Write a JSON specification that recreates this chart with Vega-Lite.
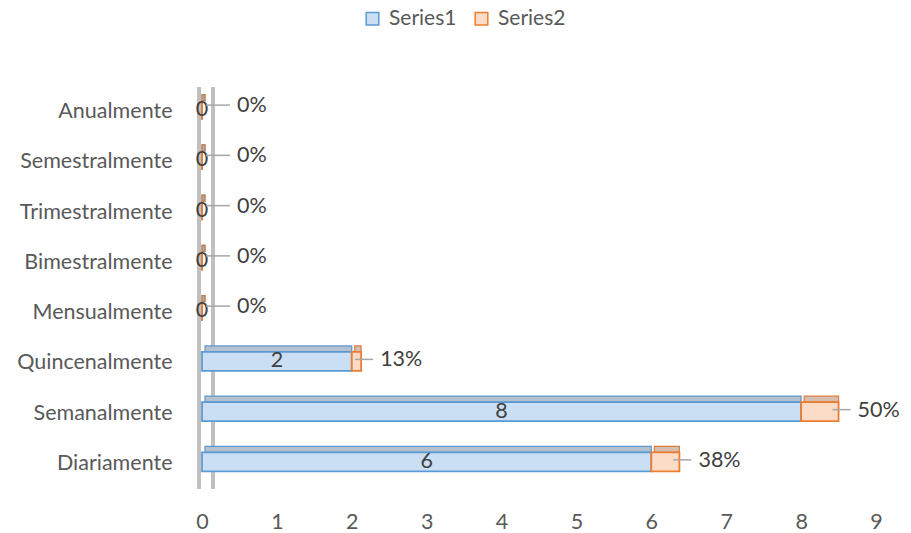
{
  "$schema": "https://vega.github.io/schema/vega-lite/v6.json",
  "width": 674,
  "height": 402,
  "autosize": {"type": "none"},
  "padding": {"left": 202, "top": 87, "right": 35, "bottom": 44},
  "config": {
    "font": "Lato",
    "view": {"stroke": null},
    "axis": {"labelColor": "#595959", "labelFontSize": 21.5, "grid": false, "domain": false, "ticks": false, "title": null},
    "legend": {"labelColor": "#595959", "labelFontSize": 21}
  },
  "data": {
    "values": [
      {"cat": "Anualmente", "series": "Series1", "value": 0, "label": "0"},
      {"cat": "Semestralmente", "series": "Series1", "value": 0, "label": "0"},
      {"cat": "Trimestralmente", "series": "Series1", "value": 0, "label": "0"},
      {"cat": "Bimestralmente", "series": "Series1", "value": 0, "label": "0"},
      {"cat": "Mensualmente", "series": "Series1", "value": 0, "label": "0"},
      {"cat": "Quincenalmente", "series": "Series1", "value": 2, "label": "2"},
      {"cat": "Semanalmente", "series": "Series1", "value": 8, "label": "8"},
      {"cat": "Diariamente", "series": "Series1", "value": 6, "label": "6"},
      {"cat": "Anualmente", "series": "Series2", "value": 0, "label": "0%"},
      {"cat": "Semestralmente", "series": "Series2", "value": 0, "label": "0%"},
      {"cat": "Trimestralmente", "series": "Series2", "value": 0, "label": "0%"},
      {"cat": "Bimestralmente", "series": "Series2", "value": 0, "label": "0%"},
      {"cat": "Mensualmente", "series": "Series2", "value": 0, "label": "0%"},
      {"cat": "Quincenalmente", "series": "Series2", "value": 0.125, "label": "13%"},
      {"cat": "Semanalmente", "series": "Series2", "value": 0.5, "label": "50%"},
      {"cat": "Diariamente", "series": "Series2", "value": 0.375, "label": "38%"}
    ]
  },
  "transform": [
    {"stack": "value", "groupby": ["cat"], "sort": [{"field": "series"}], "as": ["v0", "v1"]},
    {"calculate": "(datum.v0 + datum.v1) / 2", "as": "mid"}
  ],
  "layer": [
    {
      "mark": {"type": "rule", "color": "#c0c0c0", "strokeWidth": 3, "xOffset": -3},
      "encoding": {"x": {"datum": 0, "type": "quantitative", "scale": {"domain": [0, 9], "nice": false}, "axis": {"values": [0,1,2,3,4,5,6,7,8,9], "labelPadding": 22, "labelFlush": false, "format": "d"}}}
    },
    {
      "mark": {"type": "rule", "color": "#c0c0c0", "strokeWidth": 3, "xOffset": 11},
      "encoding": {"x": {"datum": 0, "type": "quantitative"}}
    },
    {
      "mark": {"type": "bar", "size": 6, "yOffset": -14.5, "xOffset": 3, "strokeWidth": 1.2},
      "encoding": {
        "y": {"field": "cat", "type": "nominal", "sort": ["Anualmente","Semestralmente","Trimestralmente","Bimestralmente","Mensualmente","Quincenalmente","Semanalmente","Diariamente"], "axis": {"labelPadding": 30}},
        "x": {"field": "v0", "type": "quantitative"},
        "x2": {"field": "v1"},
        "fill": {"field": "series", "type": "nominal", "scale": {"domain": ["Series1", "Series2"], "range": ["#cadff4", "#fcdcc6"]}, "legend": {"title": null, "orient": "none", "legendX": 160, "legendY": -79, "direction": "horizontal", "symbolType": "square", "symbolSize": 160, "symbolStrokeWidth": 1.5, "columnPadding": 14, "labelOffset": 6}},
        "stroke": {"field": "series", "type": "nominal", "scale": {"domain": ["Series1", "Series2"], "range": ["#5b9bd5", "#ed7d31"]}, "legend": {"title": null, "orient": "none", "legendX": 160, "legendY": -79, "direction": "horizontal", "symbolType": "square", "symbolSize": 160, "symbolStrokeWidth": 1.5, "columnPadding": 14, "labelOffset": 6}}
      }
    },
    {
      "mark": {"type": "bar", "size": 6, "yOffset": -14.5, "xOffset": 3, "fill": "#7f7f7f", "fillOpacity": 0.3, "strokeWidth": 0},
      "encoding": {
        "y": {"field": "cat", "type": "nominal", "sort": ["Anualmente","Semestralmente","Trimestralmente","Bimestralmente","Mensualmente","Quincenalmente","Semanalmente","Diariamente"]},
        "x": {"field": "v0", "type": "quantitative"},
        "x2": {"field": "v1"}
      }
    },
    {
      "mark": {"type": "bar", "size": 19, "yOffset": -2, "strokeWidth": 1.8},
      "encoding": {
        "y": {"field": "cat", "type": "nominal", "sort": ["Anualmente","Semestralmente","Trimestralmente","Bimestralmente","Mensualmente","Quincenalmente","Semanalmente","Diariamente"]},
        "x": {"field": "v0", "type": "quantitative"},
        "x2": {"field": "v1"},
        "fill": {"field": "series", "type": "nominal"},
        "stroke": {"field": "series", "type": "nominal"}
      }
    },
    {
      "transform": [{"filter": "datum.series === 'Series1'"}],
      "mark": {"type": "text", "fontSize": 21.5, "color": "#404040", "yOffset": -2},
      "encoding": {
        "y": {"field": "cat", "type": "nominal", "sort": ["Anualmente","Semestralmente","Trimestralmente","Bimestralmente","Mensualmente","Quincenalmente","Semanalmente","Diariamente"]},
        "x": {"field": "mid", "type": "quantitative"},
        "text": {"field": "label"}
      }
    },
    {
      "transform": [{"filter": "datum.series === 'Series2' && datum.value > 0"}],
      "mark": {"type": "rule", "color": "#a6a6a6", "strokeWidth": 1.5, "xOffset": -6, "x2Offset": 12, "yOffset": -4},
      "encoding": {
        "y": {"field": "cat", "type": "nominal", "sort": ["Anualmente","Semestralmente","Trimestralmente","Bimestralmente","Mensualmente","Quincenalmente","Semanalmente","Diariamente"]},
        "x": {"field": "v1", "type": "quantitative"},
        "x2": {"field": "v1"}
      }
    },
    {
      "transform": [{"filter": "datum.series === 'Series2' && datum.value > 0"}],
      "mark": {"type": "text", "fontSize": 21.5, "color": "#404040", "align": "left", "dx": 19, "yOffset": -3},
      "encoding": {
        "y": {"field": "cat", "type": "nominal", "sort": ["Anualmente","Semestralmente","Trimestralmente","Bimestralmente","Mensualmente","Quincenalmente","Semanalmente","Diariamente"]},
        "x": {"field": "v1", "type": "quantitative"},
        "text": {"field": "label"}
      }
    },
    {
      "transform": [{"filter": "datum.series === 'Series2' && datum.value === 0"}],
      "mark": {"type": "rule", "color": "#a6a6a6", "strokeWidth": 1.5, "xOffset": 4, "x2Offset": 28, "yOffset": -7},
      "encoding": {
        "y": {"field": "cat", "type": "nominal", "sort": ["Anualmente","Semestralmente","Trimestralmente","Bimestralmente","Mensualmente","Quincenalmente","Semanalmente","Diariamente"]},
        "x": {"field": "v1", "type": "quantitative"},
        "x2": {"field": "v1"}
      }
    },
    {
      "transform": [{"filter": "datum.series === 'Series2' && datum.value === 0"}],
      "mark": {"type": "text", "fontSize": 21.5, "color": "#404040", "align": "left", "dx": 35, "yOffset": -6},
      "encoding": {
        "y": {"field": "cat", "type": "nominal", "sort": ["Anualmente","Semestralmente","Trimestralmente","Bimestralmente","Mensualmente","Quincenalmente","Semanalmente","Diariamente"]},
        "x": {"field": "v1", "type": "quantitative"},
        "text": {"field": "label"}
      }
    }
  ]
}
